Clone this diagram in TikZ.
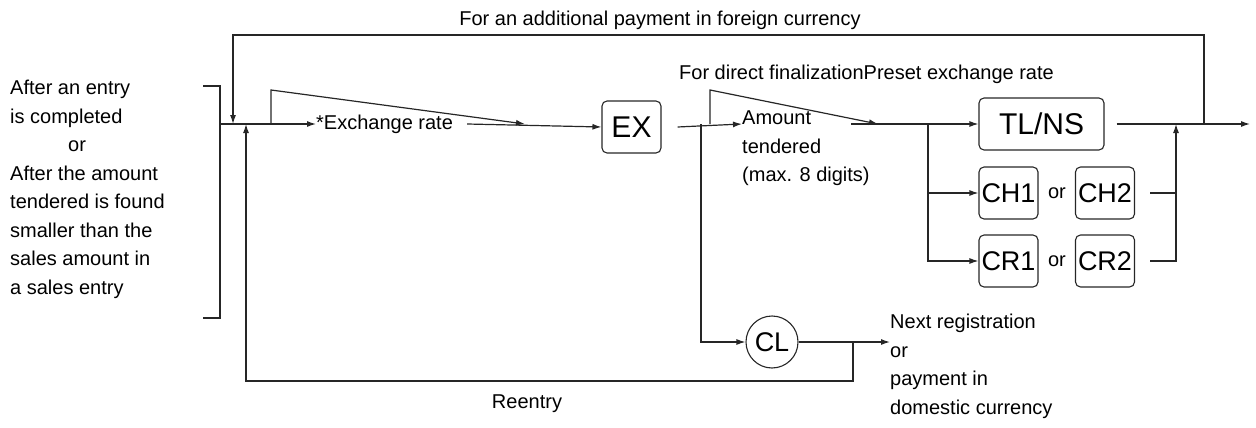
\documentclass[tikz,border=0pt]{standalone}
\usepackage{fontspec}
\setmainfont{Liberation Sans}
\usetikzlibrary{arrows.meta}
\begin{document}
\begin{tikzpicture}[x=1pt,y=-1pt,
  ln/.style={line width=1.2pt,draw=black!85},
  ar/.style={ln,-{Latex[length=9pt,width=6pt]}},
  txt/.style={inner sep=0pt,font=\fontsize{20}{28.5}\selectfont,align=left},
  key/.style={draw=black!85,line width=1.1pt,rounded corners=5pt,inner sep=0pt,font=\fontsize{30}{30}\selectfont},
  key2/.style={key,font=\fontsize{27}{27}\selectfont,minimum height=52pt,minimum width=59pt}]
\useasboundingbox (0,0) rectangle (1256,428);
% left text
\node[txt,anchor=north west] (left) at (10,80) {After an entry\\is completed\\\hspace{58pt}or\\After the amount\\tendered is found\\smaller than the\\sales amount in\\a sales entry};
\draw[ln] (203,86) -- (220,86) -- (220,318) -- (203,318);
\coordinate (start) at (220,124);
% labels
\node[txt,anchor=base] (topl) at (660,26) {For an additional payment in foreign currency};
\node[txt,anchor=base west] (dirl) at (679,80) {For direct finalizationPreset exchange rate};
\node[txt,anchor=west] (exr) at (316,124) {*Exchange rate};
\node[key,minimum width=59pt,minimum height=52pt] (ex) at (631.5,127) {EX};
\node[txt,anchor=north west] (amt) at (742,111) {Amount\\tendered\\(max. 8 digits)};
\node[key,minimum width=125pt,minimum height=52pt] (tl) at (1041.5,124) {TL/NS};
\node[key2] (ch1) at (1008.5,193) {CH1};
\node[txt] (or1) at (1057,193) {or};
\node[key2] (ch2) at (1105,193) {CH2};
\node[key2] (cr1) at (1008.5,261) {CR1};
\node[txt] (or2) at (1057,261) {or};
\node[key2] (cr2) at (1105,261) {CR2};
\node[draw=black!85,line width=1.1pt,circle,minimum size=52pt,inner sep=0pt,font=\fontsize{27}{27}\selectfont] (cl) at (772,342) {CL};
\node[txt,anchor=north west] (next) at (890,314) {Next registration\\or\\payment in\\domestic currency};
\node[txt,anchor=base] (reent) at (527,408) {Reentry};
% main flow
\coordinate (j1) at (271,124);
\coordinate (j2) at (525,124);
\coordinate (j3) at (701,124);
\coordinate (j4) at (710,124);
\coordinate (j5) at (878,124);
\coordinate (j6) at (928,124);
\coordinate (j7) at (1176,124);
\coordinate (j8) at (1204,124);
\coordinate (endp) at (1250,124);
\draw[ar] (start) -- (exr.west);
\draw[ar] (exr.east) ++(14,0) -- (ex.west);
\draw[ar] (j1) -- (271,90) -- (j2);
\draw[ar] (ex.east) ++(16,0) -- (amt.west|-j3);
\draw[ar] (j4) -- (710,90) -- (j5);
\draw[ar] (851,124) -- (tl.west);
\draw[ar] (j6) |- (ch1.west);
\draw[ar] (j6) |- (cr1.west);
\draw[ar] (j3) |- (cl.west);
\draw[ar] (tl.east) ++(12,0) -- (endp);
\draw[ln] (ch2.east) ++(15,0) -- (1176,193);
\draw[ar] (cr2.east) ++(15,0) -- (1176,261) -- (j7);
\draw[ar] (j8) -- (1204,35) -- (233,35) -- (233,124);
\draw[ar] (cl.east) ++(0,0) -- (next.west|-cl);
\draw[ar] (853,342) -- (853,381) -- (246,381) -- (246,124);
\end{tikzpicture}
\end{document}
